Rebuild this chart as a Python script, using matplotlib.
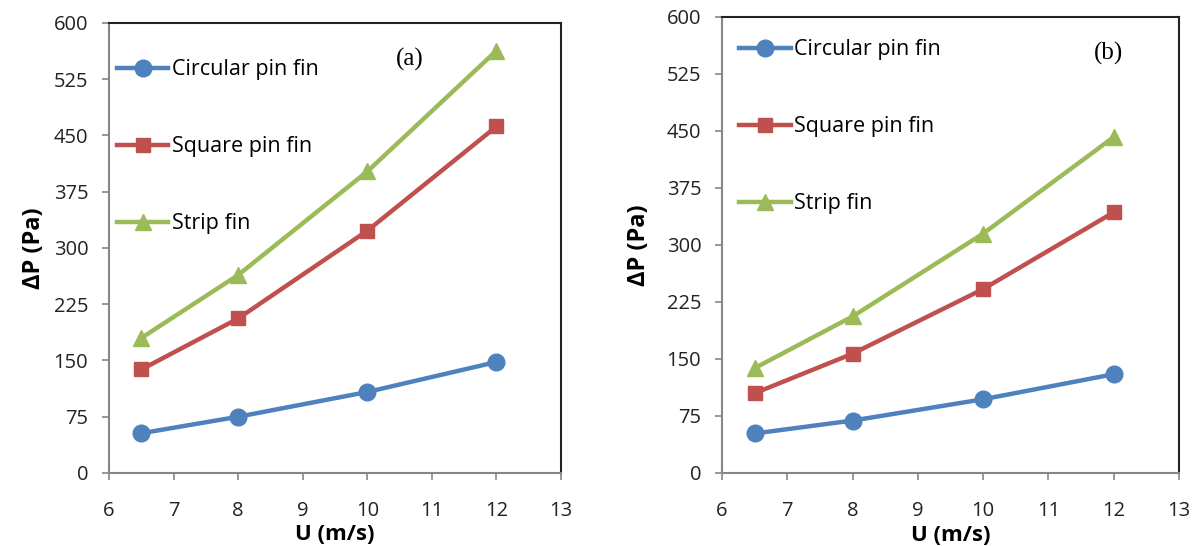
import numpy as np
import matplotlib
matplotlib.use('Agg')
import matplotlib.pyplot as plt

# velocity (m/s)
u = [6.5, 8, 10, 12]

# panel (a)
circ_a = [53, 75, 108, 148]
square_a = [138, 206, 323, 462]
strip_a = [180, 264, 402, 563]

# panel (b)
circ_b = [52, 69, 97, 130]
square_b = [105, 157, 242, 343]
strip_b = [138, 206, 315, 442]

names = ['Circular pin fin', 'Square pin fin', 'Strip fin']
colors = ['#4F81BD', '#C0504D', '#9BBB59']
markers = ['o', 's', '^']
msizes = [12, 10.5, 12]

yticks = [0, 75, 150, 225, 300, 375, 450, 525, 600]
xticks = [6, 7, 8, 9, 10, 11, 12, 13]

plt.rcParams['font.family'] = ['Open Sans', 'DejaVu Sans']

fig = plt.figure(figsize=(12.01, 5.46), dpi=100)
ax_a = fig.add_axes([0.0908, 0.1337, 0.3763, 0.8242])
ax_b = fig.add_axes([0.6012, 0.1337, 0.3805, 0.8352])


def draw_panel(ax, series, tag, tag_pos, leg_xy, ylab_x):
    for vals, name, c, m, ms in zip(series, names, colors, markers, msizes):
        ax.plot(u, vals, color=c, lw=3.2, marker=m, markersize=ms, label=name)
    ax.set_xlim(6, 13)
    ax.set_ylim(0, 600)
    ax.set_xticks(xticks)
    ax.set_yticks(yticks)
    ax.tick_params(direction='out', length=5, width=1.2, color='#868686',
                   labelsize=14.5, labelcolor='#222222')
    ax.tick_params(axis='x', pad=15)
    ax.tick_params(axis='y', pad=10)
    for side in ['left', 'bottom']:
        ax.spines[side].set_color('#868686')
        ax.spines[side].set_linewidth(1.5)
    for side in ['top', 'right']:
        ax.spines[side].set_color('#222222')
        ax.spines[side].set_linewidth(1.5)
    ax.set_xlabel('U (m/s)', fontsize=16, fontweight='bold')
    ax.set_ylabel('ΔP (Pa)', fontsize=17, fontweight='bold')
    ax.xaxis.set_label_coords(0.5, -0.113)
    ax.yaxis.set_label_coords(ylab_x, 0.5)
    ax.text(tag_pos[0], tag_pos[1], tag, transform=ax.transAxes,
            fontsize=18, family='Liberation Serif', ha='center', va='center')
    ax.legend(loc='upper left', bbox_to_anchor=leg_xy, frameon=False,
              fontsize=15.5, labelspacing=2.6, handlelength=2.4,
              handletextpad=0.15, borderaxespad=0.1, borderpad=0.3)


draw_panel(ax_a, [circ_a, square_a, strip_a], '(a)', (0.665, 0.92), (-0.002, 0.938), -0.14)
draw_panel(ax_b, [circ_b, square_b, strip_b], '(b)', (0.845, 0.92), (0.018, 0.97), -0.155)

fig.savefig('out.png', dpi=100)
